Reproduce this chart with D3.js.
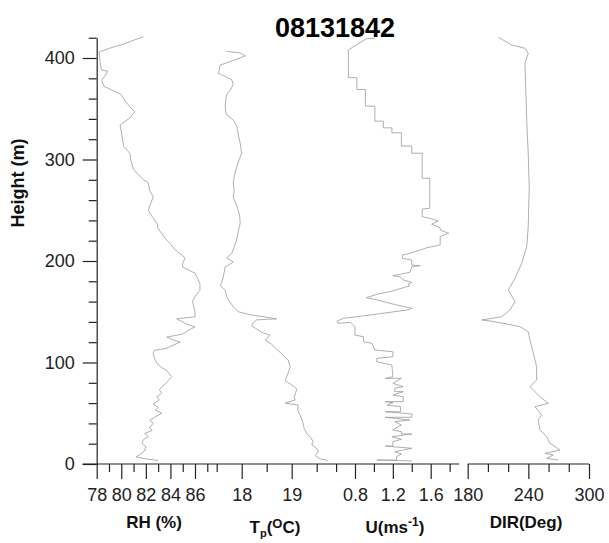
<!DOCTYPE html>
<html>
<head>
<meta charset="utf-8">
<script src="https://cdn.jsdelivr.net/npm/d3@7"></script>
<style>
  body { margin: 0; background: #fff; }
  svg { display: block; font-family: "Liberation Sans", Arial, sans-serif; }
  .axis path, .axis line { stroke: #222; stroke-width: 1.2; }
  .axis text { font-size: 18px; fill: #222; }
  .profile { fill: none; stroke: #9a9a9a; stroke-width: 0.8; }
  .title { font-size: 27px; font-weight: bold; }
  .label { font-size: 17px; font-weight: bold; fill: #111; }
</style>
</head>
<body>
<div id="chart"></div>
<script>
// sounding profiles (height in m)
const title = "08131842";

const rhHeight = [421, 413, 411, 406, 400, 393, 388, 387, 383, 378, 372, 368, 364, 358, 352, 347, 341, 334, 328, 320, 313, 306, 298, 290, 285, 280, 277, 270, 263, 257, 250, 244, 237, 232, 227, 222, 217, 212, 207, 203, 198, 194, 188, 183, 178, 171, 165, 160, 155, 150, 145, 143, 140, 138, 135, 132, 128, 125, 122, 120, 116, 114, 112, 109, 104, 99, 95, 92, 89, 86, 82, 79, 76, 73, 70, 66, 63, 59, 56, 53, 50, 46, 43, 40, 36, 33, 30, 27, 24, 20, 17, 13, 10, 7, 5, 3.5];
const rhValue = [81.8, 80.0, 79.4, 78.2, 78.25, 78.3, 78.4, 78.9, 78.7, 78.4, 78.6, 79.3, 80.0, 80.3, 80.7, 81.1, 80.7, 79.9, 80.0, 80.1, 80.2, 80.7, 80.8, 81.0, 81.4, 81.8, 82.2, 82.3, 82.6, 82.4, 82.2, 82.5, 82.9, 83.0, 83.3, 83.6, 84.0, 84.3, 84.8, 85.2, 85.0, 85.0, 86.0, 86.2, 86.4, 86.4, 86.0, 85.8, 85.9, 86.0, 86.0, 84.5, 85.0, 85.3, 86.0, 85.5, 85.0, 83.7, 84.3, 84.8, 84.0, 83.7, 82.7, 82.6, 82.7, 82.9, 83.3, 83.7, 83.9, 84.1, 83.8, 83.6, 83.3, 83.1, 83.3, 82.9, 83.1, 82.6, 83.0, 82.8, 83.3, 82.7, 82.3, 82.6, 82.3, 82.5, 81.9, 82.2, 81.8, 81.7, 82.0, 81.9, 81.6, 81.2, 82.0, 83.0];

const tHeight = [406.5, 405, 402, 398, 393, 388, 385, 381, 378.6, 374, 369, 364, 358, 352, 347, 344, 339, 333, 325, 316, 306, 300, 293, 285, 277, 270, 263, 257, 250, 244, 237, 229, 221, 214, 207.5, 203, 199, 194, 189, 184, 179, 176, 171, 165, 160, 155, 150, 147, 143, 142, 139, 136, 133, 129, 127, 122, 118, 114, 110, 106, 102, 96, 90, 86, 82, 78, 74, 70, 66, 63, 60, 58, 53, 48, 44, 40, 35, 30, 26, 22, 19, 16.6, 14, 11.6, 8.4, 5, 3.5];
const tValue = [17.70, 17.97, 18.07, 17.85, 17.57, 17.55, 17.53, 17.70, 17.80, 17.83, 17.78, 17.70, 17.68, 17.67, 17.68, 17.70, 17.83, 17.90, 17.93, 17.97, 18.00, 17.95, 17.90, 17.86, 17.83, 17.85, 17.83, 17.88, 17.93, 17.96, 17.97, 17.93, 17.90, 17.85, 17.80, 17.70, 17.83, 17.67, 17.65, 17.63, 17.60, 17.57, 17.67, 17.70, 17.76, 17.83, 17.93, 18.17, 18.70, 18.30, 18.23, 18.20, 18.30, 18.43, 18.57, 18.47, 18.60, 18.68, 18.77, 18.85, 18.93, 18.97, 18.93, 18.90, 18.87, 19.00, 19.10, 19.08, 19.05, 19.07, 18.87, 19.13, 19.12, 19.17, 19.20, 19.23, 19.25, 19.30, 19.38, 19.43, 19.40, 19.47, 19.52, 19.53, 19.47, 19.57, 19.73];

const uHeight = [419.5, 419, 408, 380.6, 380.6, 369, 369, 352.6, 352.6, 337.8, 337.8, 331.2, 331.2, 326.3, 326.3, 313.2, 313.2, 306.2, 306.2, 281.5, 281.5, 251.9, 251.2, 243.7, 242, 239.4, 236.2, 232.8, 230.5, 227.3, 224, 215.8, 213.1, 210.8, 207.6, 205.9, 202.6, 201, 196, 195.4, 194.4, 188.9, 186.9, 185.5, 184.5, 181.3, 179, 177, 175.6, 169.8, 167.2, 163.8, 162.6, 156.7, 153.4, 151.7, 146.8, 143.5, 140.9, 138.6, 139.6, 135.3, 127, 125.4, 120.5, 118.9, 112.3, 110.6, 105.7, 104.1, 100.8, 97.5, 86, 84.4, 84.4, 79.5, 76.2, 74.6, 71.3, 71.3, 68, 66.3, 61.4, 61.4, 60.4, 58.1, 56.5, 51.5, 51.5, 49.3, 46, 46, 43.3, 41.7, 38.4, 33.5, 31.8, 29.6, 29.6, 26.9, 24.3, 22, 17.7, 17.7, 15.5, 12.1, 9.9, 7.2, 3.9, 3.9, 3];
const uValue = [1.01, 0.92, 0.73, 0.73, 0.82, 0.82, 0.91, 0.91, 1.01, 1.01, 1.10, 1.10, 1.19, 1.19, 1.29, 1.29, 1.40, 1.40, 1.51, 1.51, 1.59, 1.59, 1.51, 1.51, 1.59, 1.68, 1.61, 1.70, 1.70, 1.79, 1.70, 1.70, 1.56, 1.49, 1.38, 1.30, 1.30, 1.40, 1.40, 1.49, 1.40, 1.38, 1.28, 1.20, 1.28, 1.31, 1.40, 1.36, 1.38, 1.17, 1.03, 0.92, 0.99, 1.24, 1.40, 1.35, 0.96, 0.68, 0.61, 0.62, 0.75, 0.80, 0.80, 0.89, 0.89, 0.98, 1.01, 1.20, 1.20, 1.03, 1.03, 1.19, 1.20, 1.12, 1.29, 1.20, 1.31, 1.22, 1.22, 1.31, 1.20, 1.31, 1.31, 1.12, 1.20, 1.14, 1.28, 1.28, 1.12, 1.40, 1.40, 1.12, 1.38, 1.22, 1.29, 1.20, 1.29, 1.29, 1.40, 1.19, 1.29, 1.20, 1.20, 1.12, 1.40, 1.22, 1.29, 1.24, 1.24, 1.03, 1.40];

const dirHeight = [420.4, 412.8, 409.6, 404.6, 394.8, 378.3, 358, 338.9, 320, 306.1, 290, 273.2, 255, 233.8, 214.1, 197.7, 183, 171.4, 159.9, 151.7, 145.1, 142.4, 141.9, 140.9, 138.6, 135.3, 130.3, 122.2, 109.1, 95.9, 82.8, 76.2, 66.3, 59.8, 56.5, 48.3, 43.3, 33.5, 26.9, 20.4, 13.8, 10.5, 8.9, 5.6, 3.9];
const dirValue = [210.3, 223.5, 236.7, 239.9, 236.7, 237.2, 237.8, 238.4, 239.2, 239.9, 240.3, 240.9, 240.4, 239.9, 238.4, 233.4, 226.8, 220.2, 226.8, 221.8, 213.6, 197.1, 193.8, 202.1, 215.2, 231.7, 239.9, 241.6, 244.9, 248.2, 248.2, 241.6, 251.5, 259.7, 246.6, 253.2, 249.8, 251.5, 258.1, 261.4, 271.3, 256.5, 264.7, 258.1, 269.6];

const heightTicks = [0, 100, 200, 300, 400];
const heightMinor = [20, 40, 60, 80, 120, 140, 160, 180, 220, 240, 260, 280, 320, 340, 360, 380, 420];

const rhTicks = [78, 80, 82, 84, 86];
const rhMinor = [79, 81, 83, 85, 87];
const tTicks = [18, 19];
const tMinor = [17.5, 18.5, 19.5];
const uTicks = [0.8, 1.2, 1.6];
const uMinor = [0.6, 1.0, 1.4, 1.8];
const dirTicks = [180, 240, 300];
const dirMinor = [200, 220, 260, 280];

const width = 609;
const height = 543;

const svg = d3.select("#chart").append("svg")
  .attr("width", width)
  .attr("height", height);

const y = d3.scaleLinear().domain([0, 420]).range([464, 37.7]);
const xRH = d3.scaleLinear().domain([78, 86]).range([96.7, 195]);
const xT = d3.scaleLinear().domain([18, 19]).range([241.7, 291.7]);
const xU = d3.scaleLinear().domain([0.8, 1.6]).range([355, 430.7]);
const xDir = d3.scaleLinear().domain([180, 300]).range([467.7, 589]);

const x0 = xRH.range()[0];
const baseY = y(0);

// profiles
const panels = [
  { x: xRH, h: rhHeight, v: rhValue },
  { x: xT, h: tHeight, v: tValue },
  { x: xU, h: uHeight, v: uValue },
  { x: xDir, h: dirHeight, v: dirValue },
];

panels.forEach((p) => {
  const line = d3.line()
    .x((i) => p.x(p.v[i]))
    .y((i) => y(p.h[i]));
  svg.append("path")
    .attr("class", "profile")
    .attr("d", line(d3.range(p.h.length)));
});

// y axis
svg.append("g")
  .attr("class", "axis")
  .attr("transform", `translate(${x0},0)`)
  .call(d3.axisLeft(y).tickValues(heightTicks).tickSize(14).tickSizeOuter(0).tickPadding(8));

svg.append("g")
  .attr("class", "axis")
  .attr("transform", `translate(${x0},0)`)
  .call(d3.axisLeft(y).tickValues(heightMinor).tickSize(8).tickFormat(""))
  .call((g) => g.select(".domain").remove());

// bottom axes: one baseline for RH/T/U, a second for DIR
function bottomTicks(scale, major, minor, fmt) {
  svg.append("g")
    .attr("class", "axis")
    .attr("transform", `translate(0,${baseY})`)
    .call(d3.axisBottom(scale).tickValues(major).tickSize(15).tickPadding(9).tickFormat(fmt))
    .call((g) => g.select(".domain").remove());
  svg.append("g")
    .attr("class", "axis")
    .attr("transform", `translate(0,${baseY})`)
    .call(d3.axisBottom(scale).tickValues(minor).tickSize(8).tickFormat(""))
    .call((g) => g.select(".domain").remove());
}

bottomTicks(xRH, rhTicks, rhMinor, d3.format("d"));
bottomTicks(xT, tTicks, tMinor, d3.format("d"));
bottomTicks(xU, uTicks, uMinor, d3.format(".1f"));
bottomTicks(xDir, dirTicks, dirMinor, d3.format("d"));

svg.append("line")
  .attr("x1", x0 - 14).attr("x2", xU(1.9))
  .attr("y1", baseY).attr("y2", baseY)
  .attr("stroke", "#222").attr("stroke-width", 1.2);

svg.append("line")
  .attr("x1", xDir(180)).attr("x2", xDir(300))
  .attr("y1", baseY).attr("y2", baseY)
  .attr("stroke", "#222").attr("stroke-width", 1.2);

// titles
svg.append("text")
  .attr("class", "title")
  .attr("x", 335).attr("y", 37)
  .attr("text-anchor", "middle")
  .text(title);

svg.append("text")
  .attr("class", "label")
  .attr("transform", "translate(24,183) rotate(-90)")
  .attr("text-anchor", "middle")
  .style("font-size", "18px")
  .text("Height (m)");

svg.append("text")
  .attr("class", "label")
  .attr("x", 154).attr("y", 528)
  .attr("text-anchor", "middle")
  .text("RH (%)");

const tLabel = svg.append("text")
  .attr("class", "label")
  .attr("x", 275).attr("y", 533)
  .attr("text-anchor", "middle");
tLabel.append("tspan").text("T");
tLabel.append("tspan").attr("dy", 4).style("font-size", "11px").text("p");
tLabel.append("tspan").attr("dy", -4).text("(");
tLabel.append("tspan").attr("dy", -5).style("font-size", "13px").text("O");
tLabel.append("tspan").attr("dy", 5).text("C)");

const uLabel = svg.append("text")
  .attr("class", "label")
  .attr("x", 395).attr("y", 533)
  .attr("text-anchor", "middle");
uLabel.append("tspan").text("U(ms");
uLabel.append("tspan").attr("dy", -7).style("font-size", "12px").text("-1");
uLabel.append("tspan").attr("dy", 7).text(")");

svg.append("text")
  .attr("class", "label")
  .attr("x", 526).attr("y", 528)
  .attr("text-anchor", "middle")
  .text("DIR(Deg)");
</script>
</body>
</html>
